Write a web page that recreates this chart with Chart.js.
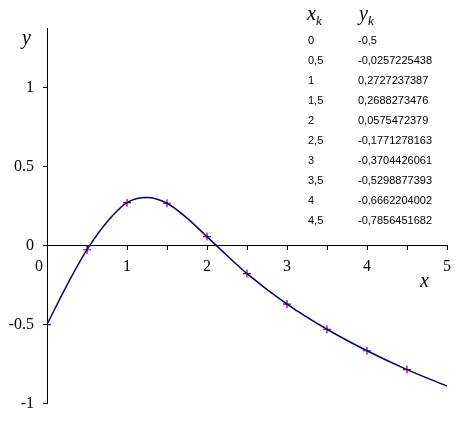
<!DOCTYPE html>
<html>
<head>
<meta charset="utf-8">
<script src="https://cdn.jsdelivr.net/npm/chart.js@4/dist/chart.umd.min.js"></script>
<style>
  html, body { margin: 0; padding: 0; background: #fff; }
  #wrap { width: 475px; height: 422px; }
</style>
</head>
<body>
<div id="wrap"><canvas id="plot" width="475" height="422"></canvas></div>
<script>
// table nodes x_k, y_k
const xk = [0, 0.5, 1, 1.5, 2, 2.5, 3, 3.5, 4, 4.5];
const yk = [-0.5, -0.0257225438, 0.2727237387, 0.2688273476, 0.0575472379,
  -0.1771278163, -0.3704426061, -0.5298877393, -0.6662204002, -0.7856451682];

// smooth curve, extra points
const curveX = [0, 0.25, 0.5, 0.75, 1, 1.25, 1.5, 1.75, 2, 2.25, 2.5, 3, 3.5, 4, 4.5, 5];
const curveY = [-0.5, -0.25, -0.0257, 0.15, 0.2727, 0.305, 0.2688, 0.175, 0.0575, -0.062,
  -0.1771, -0.3704, -0.5299, -0.6662, -0.7856, -0.89];

const xTicks = [0, 1, 2, 3, 4, 5];
const yTicks = [-1, -0.5, 0, 0.5, 1];

const serif = '"Liberation Serif", "Times New Roman", serif';

// axis letters + table of values
const textPlugin = {
  id: 'texts',
  afterDraw(chart) {
    const c = chart.ctx;
    c.save();
    c.fillStyle = '#000';
    c.textBaseline = 'alphabetic';
    c.font = 'italic 20px ' + serif;
    c.fillText('y', 22, 44);
    c.fillText('x', 420, 287);

    // header
    c.fillText('x', 307, 20);
    c.fillText('y', 359, 20);
    c.font = 'italic 13px ' + serif;
    c.fillText('k', 316, 25);
    c.fillText('k', 368, 25);

    c.font = '11px "Liberation Sans", Arial, sans-serif';
    xk.forEach((x, i) => {
      const yy = 44 + i * 20;
      c.fillText(String(x).replace('.', ','), 308, yy);
      c.fillText(String(yk[i]).replace('.', ','), 358, yy);
    });
    c.restore();
  }
};

const ctx = document.getElementById('plot').getContext('2d');

new Chart(ctx, {
  type: 'scatter',
  data: {
    datasets: [
      {
        type: 'line',
        data: curveX.map((x, i) => ({ x, y: curveY[i] })),
        borderColor: '#000080',
        borderWidth: 1.5,
        pointRadius: 0,
        cubicInterpolationMode: 'monotone',
        fill: false
      },
      {
        data: xk.map((x, i) => ({ x, y: yk[i] })),
        pointStyle: 'cross',
        pointRadius: 4,
        borderColor: '#800060',
        borderWidth: 1.2,
        backgroundColor: '#800060'
      }
    ]
  },
  options: {
    responsive: false,
    animation: false,
    layout: { padding: { left: 0, right: 28, top: 28, bottom: 13 } },
    plugins: { legend: { display: false }, tooltip: { enabled: false } },
    scales: {
      x: {
        type: 'linear',
        position: { y: 0 },
        min: 0,
        max: 5,
        grid: { display: true, drawOnChartArea: false, drawTicks: true, tickLength: 4, color: '#000' },
        border: { display: true, color: '#000', width: 1 },
        ticks: {
          stepSize: 0.5,
          autoSkip: false,
          maxRotation: 0,
          padding: 8,
          color: '#000',
          font: { family: serif, size: 16 },
          callback: v => xTicks.includes(v) ? (v === 0 ? '0    ' : String(v)) : ''
        }
      },
      y: {
        type: 'linear',
        position: 'left',   // x starts at 0, so the left edge is x = 0
        afterFit: s => { s.width = 47; },
        min: -1,
        max: 1.38,
        grid: { display: true, drawOnChartArea: false, drawTicks: true, tickLength: 4, color: '#000' },
        border: { display: true, color: '#000', width: 1 },
        ticks: {
          stepSize: 0.5,
          includeBounds: false,
          padding: 9,
          color: '#000',
          font: { family: serif, size: 16 },
          callback: v => yTicks.includes(v) ? String(v) : ''
        }
      }
    }
  },
  plugins: [textPlugin]
});
</script>
</body>
</html>
